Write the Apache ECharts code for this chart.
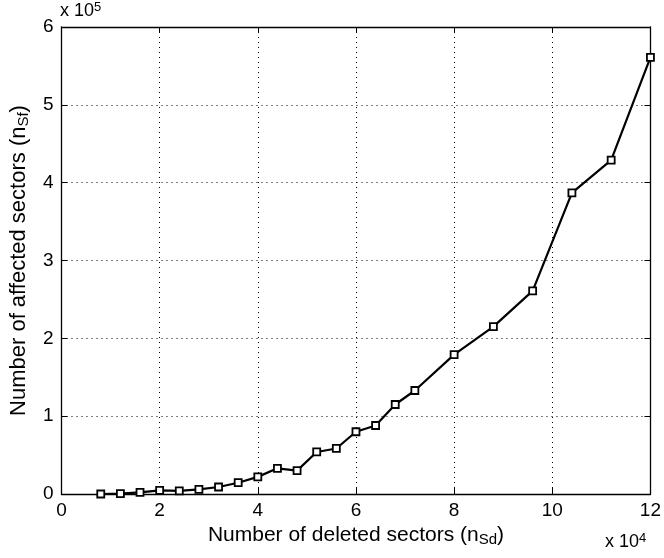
<!DOCTYPE html>
<html>
<head>
    <meta charset="utf-8">
    <title></title>
    <script src="https://cdn.jsdelivr.net/npm/echarts@6/dist/echarts.min.js"></script>
    <style>
        html, body { margin: 0; padding: 0; background: #fff; }
        #chart { width: 664px; height: 558px; }
    </style>
</head>
<body>
    <div id="chart"></div>
    <script>
    // deleted sectors (x 10^4)
    var deleted = [0.8, 1.2, 1.6, 2.0, 2.4, 2.8, 3.2, 3.6, 4.0, 4.4, 4.8, 5.2, 5.6, 6.0, 6.4, 6.8, 7.2, 8.0, 8.8, 9.6, 10.4, 11.2, 12.0];
    // affected sectors (x 10^5)
    var affected = [0.0, 0.005, 0.02, 0.047, 0.04, 0.06, 0.09, 0.145, 0.22, 0.33, 0.30, 0.54, 0.585, 0.80, 0.88, 1.15, 1.33, 1.79, 2.15, 2.61, 3.87, 4.29, 5.61];
    var xTicks = [0, 2, 4, 6, 8, 10, 12];
    var yTicks = [0, 1, 2, 3, 4, 5, 6];

    var pts = [];
    for (var i = 0; i < deleted.length; i++) {
        pts.push([deleted[i], affected[i]]);
    }

    var font = 'Liberation Sans, Arial, sans-serif';
    function makeRich(size) {
        var small = Math.round(size * 0.7);
        return {
            t: { fontSize: size, fontFamily: font, color: '#000', lineHeight: size + 3 },
            sub: { fontSize: small, fontFamily: font, color: '#000', lineHeight: small, verticalAlign: 'bottom' },
            sup: { fontSize: small, fontFamily: font, color: '#000', lineHeight: small, verticalAlign: 'top' }
        };
    }

    var chart = echarts.init(document.getElementById('chart'));

    function boxAxis(pos, isX) {
        return {
            type: 'value',
            position: pos,
            min: 0,
            max: isX ? 12 : 6,
            interval: isX ? 2 : 1,
            axisLine: { show: true, onZero: false, lineStyle: { color: '#000', width: 1.3 } },
            axisTick: { show: true, inside: true, length: 6, lineStyle: { color: '#000' } },
            axisLabel: { show: false },
            splitLine: { show: false }
        };
    }

    var option = {
        animation: false,
        backgroundColor: '#fff',
        grid: { left: 61, top: 27, right: 10, bottom: 64, containLabel: false },
        xAxis: [{
            type: 'value',
            min: 0,
            max: 12,
            interval: 2,
            name: '{t|Number of deleted sectors (n}{sub|Sd}{t|)}',
            nameLocation: 'middle',
            nameGap: 27,
            nameTextStyle: { rich: makeRich(21) },
            axisLine: { show: true, onZero: false, lineStyle: { color: '#000', width: 1.3 } },
            axisTick: { show: true, inside: true, length: 6, lineStyle: { color: '#000' } },
            axisLabel: {
                margin: 7, color: '#000', fontSize: 19, fontFamily: font,
                formatter: function (v) { return xTicks.indexOf(v) >= 0 ? String(v) : ''; }
            },
            splitLine: { show: true, lineStyle: { color: '#000', type: [1, 4], width: 1 } }
        }, boxAxis('top', true)],
        yAxis: [{
            type: 'value',
            min: 0,
            max: 6,
            interval: 1,
            name: '{t|Number of affected sectors (n}{sub|Sf}{t|)}',
            nameLocation: 'middle',
            nameGap: 30,
            nameTextStyle: { rich: makeRich(22) },
            axisLine: { show: true, onZero: false, lineStyle: { color: '#000', width: 1.3 } },
            axisTick: { show: true, inside: true, length: 6, lineStyle: { color: '#000' } },
            axisLabel: {
                margin: 8, color: '#000', fontSize: 19, fontFamily: font,
                formatter: function (v) { return yTicks.indexOf(v) >= 0 ? String(v) : ''; }
            },
            splitLine: { show: true, lineStyle: { color: '#000', type: [1, 4], width: 1 } }
        }, boxAxis('right', false)],
        graphic: [{
            type: 'text',
            left: 60,
            top: 1,
            style: { text: '{t|x 10}{sup|5}', rich: makeRich(18) }
        }, {
            type: 'text',
            left: 605,
            top: 532,
            style: { text: '{t|x 10}{sup|4}', rich: makeRich(18) }
        }],
        series: [{
            type: 'line',
            data: pts,
            symbol: 'rect',
            symbolSize: 7,
            showAllSymbol: true,
            lineStyle: { color: '#000', width: 2.2 },
            itemStyle: { color: '#fff', borderColor: '#000', borderWidth: 1.8 }
        }]
    };

    chart.setOption(option);
    addEventListener('resize', chart.resize);
    </script>
</body>
</html>
